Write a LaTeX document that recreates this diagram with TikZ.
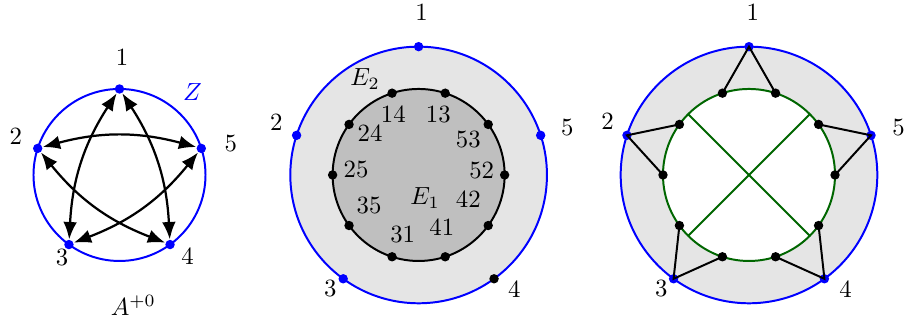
\documentclass[tikz,border=0pt]{standalone}
\usetikzlibrary{arrows.meta, calc}

\begin{document}
\begin{tikzpicture}[
  vdot/.style={circle, fill=#1, inner sep=0pt, minimum size=3.8pt},
  vdot/.default=black,
  rim/.style={draw=blue, thick},
  twoway/.style={line width=0.9pt, {Latex[length=7pt,width=5.5pt]}-{Latex[length=7pt,width=5.5pt]}},
  chord/.style={thick, draw=green!40!black},
]
\useasboundingbox (-1.695,-2.099) rectangle (11.156,2.482);

% A^{+0}
\draw[rim] (0,0) circle (1.22);
\foreach \i/\a/\lx/\ly in {1/90/0.035/1.66, 2/162/-1.471/0.543, 3/234/-0.816/-1.17,
                           4/306/0.965/-1.159, 5/18/1.579/0.44} {
  \node[vdot=blue] (a\i) at (\a:1.22) {};
  \node (la\i) at (\lx,\ly) {$\i$};
}
\foreach \s/\t in {1/4, 4/2, 2/5, 5/3, 3/1}
  \draw[twoway, bend left=15] (a\s) to (a\t);
\node[text=blue] (zlab) at (1.035,1.17) {$Z$};
\node (aplus) at (0.196,-1.844) {$A^{+0}$};

% E_1 inside E_2
\begin{scope}[shift={(4.243,0)}]
\draw[rim, fill=black!10] (0,0) circle (1.82);
\draw[thick, fill=black!25] (0,0) circle (1.22);
\foreach \k in {0,...,9}
  \node[vdot] (e\k) at (\k*36:1.22) {};
\foreach \i/\a/\c/\lx/\ly in {1/90/blue/0.04/2.30, 2/162/blue/-2.02/0.745, 3/234/blue/-1.254/-1.607,
                              4/306/black/1.356/-1.631, 5/18/blue/2.11/0.674} {
  \node[vdot=\c] (b\i) at (\a:1.82) {};
  \node (lb\i) at (\lx,\ly) {$\i$};
}
\foreach \t/\lx/\ly in {14/-0.359/0.851, 13/0.279/0.851, 24/-0.689/0.591, 53/0.705/0.506,
                        25/-0.888/0.081, 52/0.895/0.061, 35/-0.704/-0.435, 42/0.705/-0.345,
                        31/-0.226/-0.841, 41/0.328/-0.742}
  \node (t\t) at (\lx,\ly) {$\t$};
\node (eone) at (0.09,-0.33) {$E_1$};
\node (etwo) at (-0.76,1.357) {$E_2$};
\end{scope}

% pairing
\begin{scope}[shift={(8.929,0)}]
\draw[rim, fill=black!10] (0,0) circle (1.82);
\draw[chord, fill=white] (0,0) circle (1.22);
\foreach \j/\a in {1/45, 2/135, 3/225, 4/315}
  \coordinate (g\j) at (\a:1.22);
\draw[chord] (g1) -- (g3) (g2) -- (g4);
\foreach \k in {0,...,9}
  \node[vdot] (d\k) at (\k*36:1.22) {};
\foreach \i/\a/\lx/\ly in {1/90/0.054/2.305, 2/162/-2.007/0.756, 3/234/-1.245/-1.613,
                           4/306/1.369/-1.631, 5/18/2.123/0.674} {
  \node[vdot=blue] (c\i) at (\a:1.82) {};
  \node (lc\i) at (\lx,\ly) {$\i$};
}
\foreach \i/\p/\q in {1/2/3, 2/4/5, 3/6/7, 4/8/9, 5/0/1}
  \draw[thick] (d\p.center) -- (c\i.center) -- (d\q.center);
\end{scope}
\end{tikzpicture}
\end{document}
